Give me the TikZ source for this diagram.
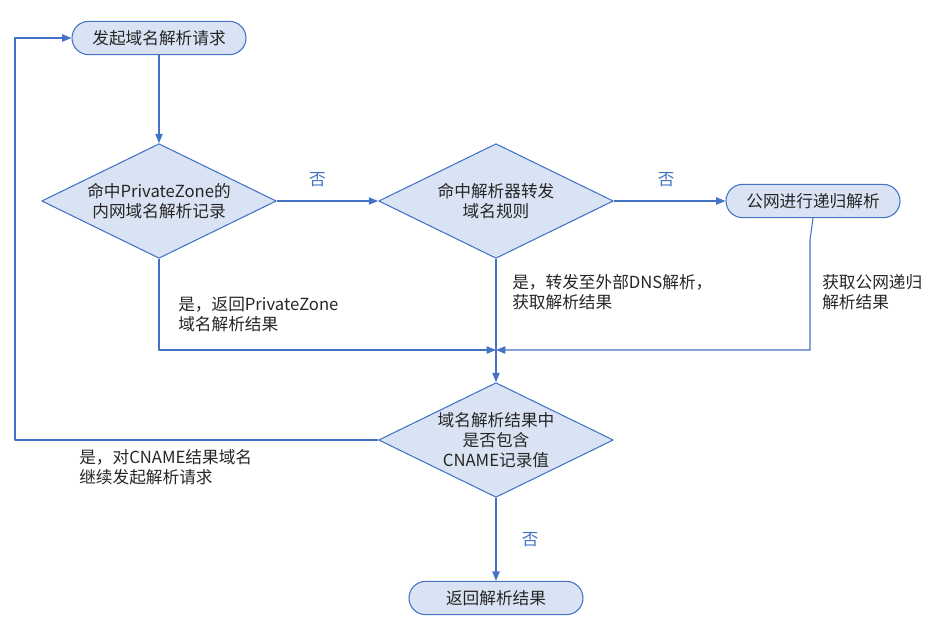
\documentclass[tikz,border=0pt]{standalone}
\usepackage{fontspec}
\newfontfamily\cjk{Noto Sans CJK SC}
\usepackage{xcolor}
\usepackage{tikz}
\usetikzlibrary{arrows.meta}
\usetikzlibrary{positioning,shapes.geometric}
\definecolor{boxfill}{HTML}{DAE3F3}
\definecolor{boxline}{HTML}{4472C4}
\definecolor{txtgray}{HTML}{262626}

\begin{document}
\begin{tikzpicture}[x=0.75pt,y=-0.75pt,>=Latex,line join=round]
% -------------------------------------------------
% Styles
% -------------------------------------------------
\tikzset{
  term/.style={draw=boxline, fill=boxfill, line width=0.8pt, rounded corners=12.5pt,
    minimum width=130.5pt, minimum height=25pt, inner sep=0pt, text=txtgray,
    font=\cjk\fontsize{12.5}{15}\selectfont},
  decide/.style={diamond, aspect=2.04, draw=boxline, fill=boxfill, line width=0.8pt,
    minimum width=176pt, minimum height=86pt, inner sep=0pt, align=center, text=txtgray,
    font=\cjk\fontsize{12.5}{15}\selectfont},
  flow/.style={draw=boxline, line width=0.8pt, -{Triangle[length=7pt,width=5.5pt]}},
  note/.style={anchor=west, align=left, inner sep=0pt, text=txtgray,
    font=\cjk\fontsize{12.5}{15}\selectfont},
  nolabel/.style={inner sep=0pt, text=boxline, font=\cjk\fontsize{12.5}{15}\selectfont},
}
\useasboundingbox (0,0) rectangle (950,622);
% -------------------------------------------------
% Nodes
% -------------------------------------------------
\node[term] (start) at (159,38) {发起域名解析请求};
\node[decide] (pz) at (159,201) {命中PrivateZone的\\内网域名解析记录};
\node[decide] (fwd) at (496,201) {命中解析器转发\\域名规则};
\node[term] (pub) at (813,201) {公网进行递归解析};
\node[decide] (cname) at (496,440) {域名解析结果中\\是否包含\\CNAME记录值};
\node[term] (ret) at (496,598) {返回解析结果};

\coordinate (merge) at (496,350);
\coordinate (pzturn) at (159,350);
\coordinate (pubbend) at (810,240);
\coordinate (pubturn) at (810,350);
\coordinate (loopbot) at (15,440);
\coordinate (looptop) at (15,38);
% -------------------------------------------------
% Connectors
% -------------------------------------------------
\draw[flow] (start) -- (pz);
\draw[flow] (pz) -- (fwd) node[nolabel, pos=0.4, above=10pt] {否};
\draw[flow] (fwd) -- (pub) node[nolabel, pos=0.47, above=10pt] {否};
\draw[flow] (pz.south) -- (pzturn) -- (merge);
\draw[flow] (pub.south) -- (pubbend) -- (pubturn) -- (merge);
\draw[flow] (fwd) -- (cname);
\draw[flow] (cname.west) -- (loopbot) -- (looptop) -- (start.west);
\draw[flow] (cname) -- (ret) node[nolabel, midway, right=19pt] {否};
% -------------------------------------------------
% Notes
% -------------------------------------------------
\node[note] (pznote) at (178,314) {是，返回PrivateZone\\域名解析结果};
\node[note] (fwdnote) at (512,292) {是，转发至外部DNS解析，\\获取解析结果};
\node[note] (pubnote) at (822,292) {获取公网递归\\解析结果};
\node[note] (cnamenote) at (79,467) {是，对CNAME结果域名\\继续发起解析请求};

\end{tikzpicture}
\end{document}
